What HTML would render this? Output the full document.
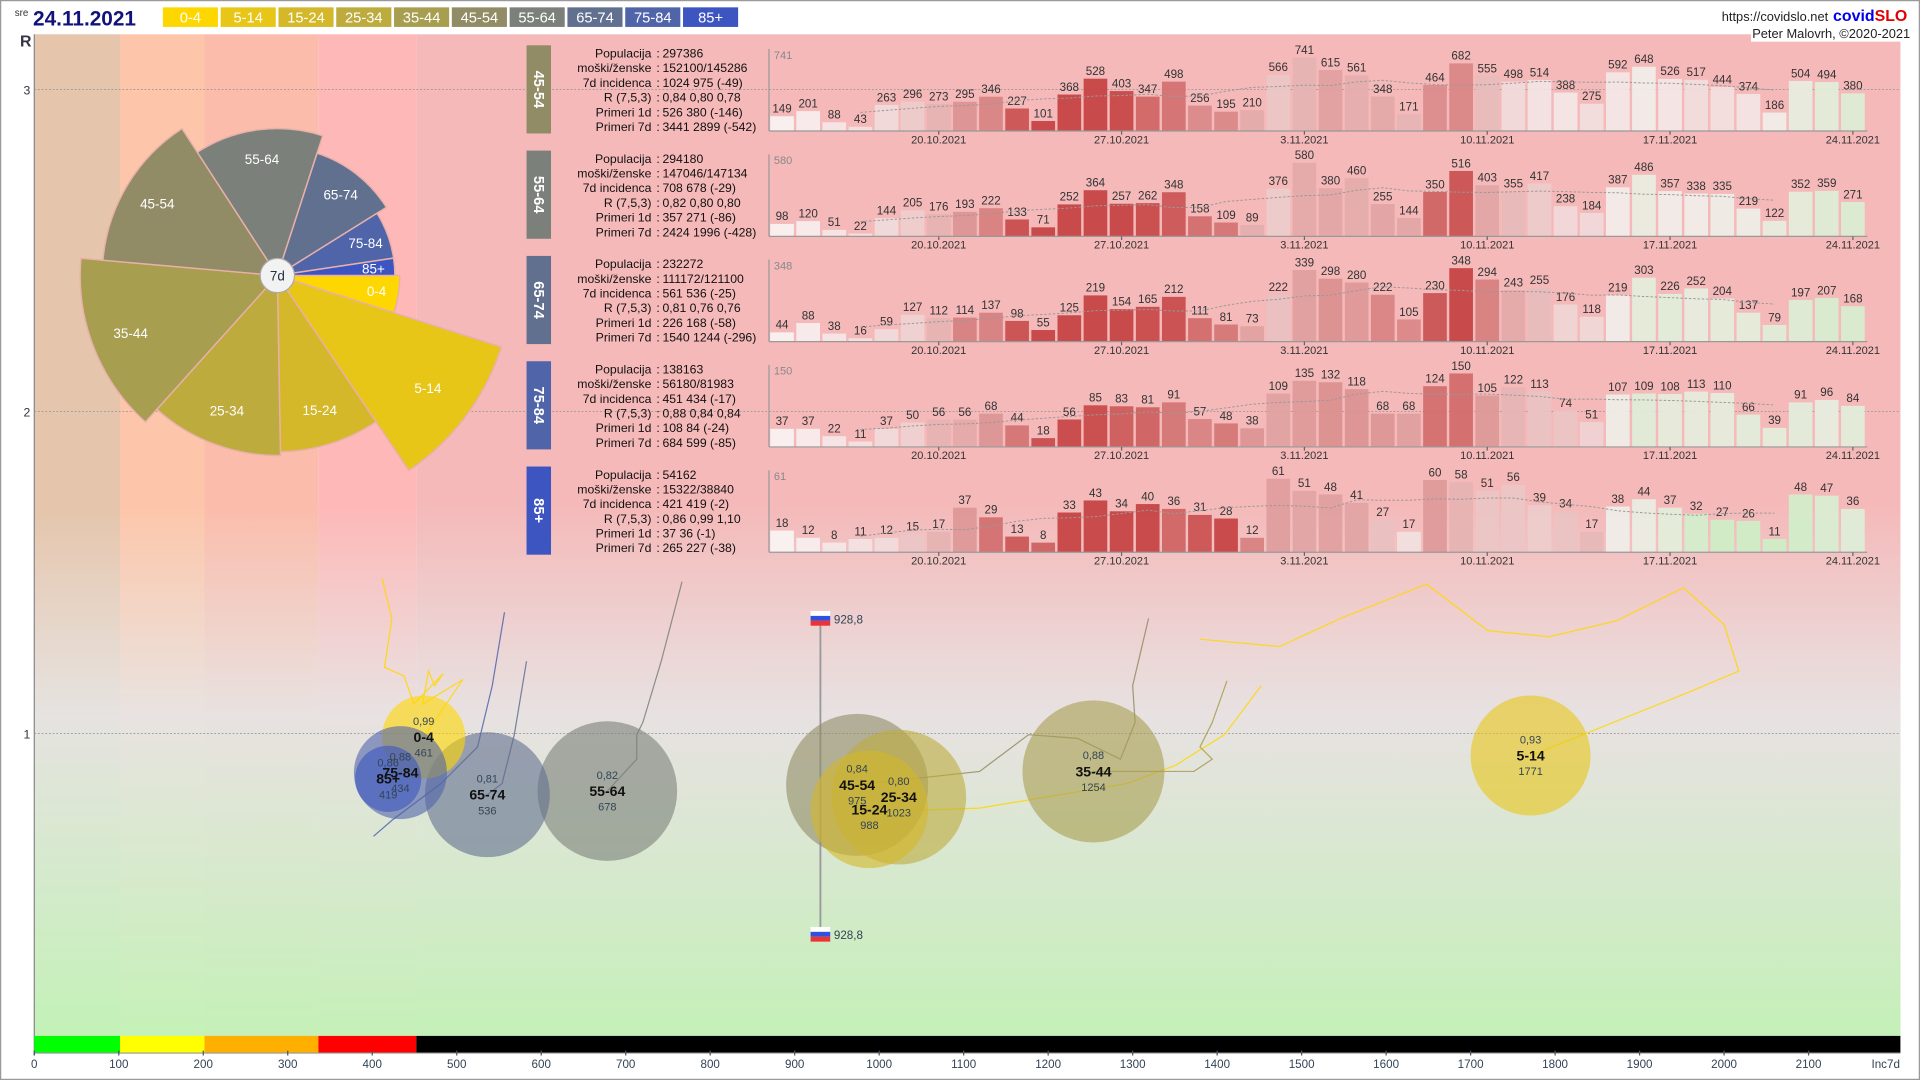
<!DOCTYPE html>
<html><head><meta charset="utf-8"><style>
html,body{margin:0;padding:0;background:#fff;width:1920px;height:1080px;overflow:hidden}
svg{display:block;font-family:"Liberation Sans",sans-serif}
</style></head><body>
<svg id="s" width="1920" height="1080" viewBox="0 0 1568 882" preserveAspectRatio="none" xmlns="http://www.w3.org/2000/svg">
<defs>
<linearGradient id="ov" gradientUnits="userSpaceOnUse" x1="0" y1="28" x2="0" y2="846">
<stop offset="0" stop-color="#e8e8e8" stop-opacity="0"/>
<stop offset="0.47" stop-color="#e8e8e8" stop-opacity="0"/>
<stop offset="0.68" stop-color="#e6e6e6" stop-opacity="0.9"/>
<stop offset="1" stop-color="#c0f5b8" stop-opacity="0.92"/>
</linearGradient>
</defs>
<rect x="0.5" y="0.5" width="1567" height="881" fill="#fff" stroke="#999"/>
<g id="bg"></g>
<rect x="28" y="28" width="1524" height="818" fill="url(#ov)"/>
<g id="grid"></g>
<g id="main"></g>
</svg>
<script>
const NS="http://www.w3.org/2000/svg";
function el(p,t,a,txt){const e=document.createElementNS(NS,t);for(const k in a)e.setAttribute(k,a[k]);if(txt!==undefined)e.textContent=txt;p.appendChild(e);return e;}
const bg=document.getElementById('bg'),G=document.getElementById('main'),gr=document.getElementById('grid');
[[28,98,'#e5c5ab'],[98,167,'#fdc6aa'],[167,260,'#fbbcab'],[260,340,'#feb8b8'],[340,1552,'#f5b9b9']].forEach(b=>el(bg,'rect',{x:b[0],y:28,width:b[1]-b[0],height:818,fill:b[2]}));
el(gr,'line',{x1:28,y1:28,x2:28,y2:862,stroke:'#888','stroke-width':1});
[[3,73],[2,336],[1,599]].forEach(t=>{el(gr,'line',{x1:28,y1:t[1],x2:1552,y2:t[1],stroke:'#999','stroke-width':0.7,'stroke-dasharray':'1.5,1.5'});el(gr,'text',{x:22,y:t[1]+4,'font-size':10,fill:'#334','text-anchor':'middle'},t[0]);});
el(gr,'text',{x:21,y:38,'font-size':13,'font-weight':'bold',fill:'#334','text-anchor':'middle'},'R');
[[28,98,'#00ff00'],[98,167,'#ffff00'],[167,260,'#ffaf00'],[260,340,'#ff0000'],[340,1552,'#000']].forEach(b=>el(gr,'rect',{x:b[0],y:846,width:b[1]-b[0],height:14,fill:b[2]}));
el(gr,'line',{x1:28,y1:860,x2:1552,y2:860,stroke:'#999'});
for(let v=0;v<=2100;v+=100){const x=28+v*0.69;el(gr,'line',{x1:x,y1:858,x2:x,y2:862,stroke:'#456'});el(gr,'text',{x:x,y:872,'font-size':9.5,fill:'#345','text-anchor':'middle'},v);}
el(gr,'text',{x:1540,y:872,'font-size':9.5,fill:'#345','text-anchor':'middle'},'Inc7d');
el(G,'text',{x:12,y:13,'font-size':8,fill:'#333'},'sre');
el(G,'text',{x:27,y:21,'font-size':17,'font-weight':'bold',fill:'#12127a'},'24.11.2021');
const ages=['0-4','5-14','15-24','25-34','35-44','45-54','55-64','65-74','75-84','85+'];
const cols=['#ffd700','#e8c617','#d4b82a','#bdab3d','#a89e50','#918c65','#7b807a','#627090','#5064aa','#3c55c0'];
ages.forEach((a,i)=>{const x=133+i*47.2;el(G,'rect',{x:x,y:6,width:45,height:16,fill:cols[i]});el(G,'text',{x:x+22.5,y:18.5,'font-size':12,fill:'#fff','text-anchor':'middle'},a);});
el(G,'text',{x:1493,y:17,'font-size':10.5,fill:'#222','text-anchor':'end'},'https://covidslo.net');
const t1=el(G,'text',{x:1497,y:17,'font-size':13,'font-weight':'bold',fill:'#0000ee'},'covid');el(t1,'tspan',{fill:'#e00000'},'SLO');
el(G,'rect',{x:1430,y:21,width:132,height:13,fill:'#fff'});
el(G,'text',{x:1560,y:31,'font-size':10.5,fill:'#222','text-anchor':'end'},'Peter Malovrh, ©2020-2021');
const cx=226.5,cy=225;
const rose=[[0,17.7,100,cols[0]],[17.7,56,192,cols[1]],[56,89,144,cols[2]],[89,132,147,cols[3]],[132,185,161,cols[4]],[185,237,143,cols[5]],[237,288,120,cols[6]],[288,328,105,cols[7]],[328,351.5,96,cols[8]],[351.5,360,96,cols[9]]];
rose.forEach((w,i)=>{const a0=w[0]*Math.PI/180,a1=w[1]*Math.PI/180,r=w[2];
const d=`M${cx},${cy}L${cx+r*Math.cos(a0)},${cy+r*Math.sin(a0)}A${r},${r} 0 0 1 ${cx+r*Math.cos(a1)},${cy+r*Math.sin(a1)}Z`;
el(G,'path',{d:d,fill:w[3],stroke:'#e8b0aa','stroke-width':1.2});
const am=(a0+a1)/2,rl=r*(i==9||i==0?0.82:0.8);
el(G,'text',{x:cx+rl*Math.cos(am),y:cy+rl*Math.sin(am)+4,'font-size':11,fill:'#fff','text-anchor':'middle'},ages[i]);});
el(G,'circle',{cx:cx,cy:cy,r:14,fill:'#f2f2f2',stroke:'#aaa'});
el(G,'text',{x:cx,y:cy+4,'font-size':11,fill:'#234','text-anchor':'middle'},'7d');
const P=[
['45-54',cols[5],['297386','152100/145286','1024 975 (-49)','0,84 0,80 0,78','526 380 (-146)','3441 2899 (-542)'],[149,201,88,43,263,296,273,295,346,227,101,368,528,403,347,498,256,195,210,566,741,615,561,348,171,464,682,555,498,514,388,275,592,648,526,517,444,374,186,504,494,380]],
['55-64',cols[6],['294180','147046/147134','708 678 (-29)','0,82 0,80 0,80','357 271 (-86)','2424 1996 (-428)'],[98,120,51,22,144,205,176,193,222,133,71,252,364,257,262,348,158,109,89,376,580,380,460,255,144,350,516,403,355,417,238,184,387,486,357,338,335,219,122,352,359,271]],
['65-74',cols[7],['232272','111172/121100','561 536 (-25)','0,81 0,76 0,76','226 168 (-58)','1540 1244 (-296)'],[44,88,38,16,59,127,112,114,137,98,55,125,219,154,165,212,111,81,73,222,339,298,280,222,105,230,348,294,243,255,176,118,219,303,226,252,204,137,79,197,207,168]],
['75-84',cols[8],['138163','56180/81983','451 434 (-17)','0,88 0,84 0,84','108 84 (-24)','684 599 (-85)'],[37,37,22,11,37,50,56,56,68,44,18,56,85,83,81,91,57,48,38,109,135,132,118,68,68,124,150,105,122,113,74,51,107,109,108,113,110,66,39,91,96,84]],
['85+',cols[9],['54162','15322/38840','421 419 (-2)','0,86 0,99 1,10','37 36 (-1)','265 227 (-38)'],[18,12,8,11,12,15,17,37,29,13,8,33,43,34,40,36,31,28,12,61,51,48,41,27,17,60,58,51,56,39,34,17,38,44,37,32,27,26,11,48,47,36]]];
const labs=['Populacija','moški/ženske','7d incidenca','R (7,5,3)','Primeri 1d','Primeri 7d'];
const dates=['20.10.2021','27.10.2021','3.11.2021','10.11.2021','17.11.2021','24.11.2021'];
function mix(a,b,t){return 'rgb('+[0,1,2].map(k=>Math.round(a[k]+(b[k]-a[k])*t)).join(',')+')';}
P.forEach((p,k)=>{const y0=37+86*k,base=y0+70;
el(G,'rect',{x:430,y:y0,width:20,height:72,fill:p[1]});
el(G,'text',{x:0,y:0,'font-size':12,'font-weight':'bold',fill:'#fff','text-anchor':'middle',transform:`translate(436,${y0+36}) rotate(90)`},p[0]);
labs.forEach((l,j)=>{const y=y0+10+12*j;el(G,'text',{x:532,y:y,'font-size':10,fill:'#111','text-anchor':'end'},l);el(G,'text',{x:536,y:y,'font-size':10,fill:'#111'},':');el(G,'text',{x:541,y:y,'font-size':10,fill:'#111'},p[2][j]);});
const v=p[3],mx=Math.max(...v),h=60/mx,bw=21.33;
const early=v.slice(0,7).reduce((a,b)=>a+b,0)/7*0.8;
const val=i=>i<0?early:v[i];
el(G,'line',{x1:628,y1:y0+3,x2:628,y2:base,stroke:'#999'});
el(G,'text',{x:632,y:y0+11,'font-size':9,fill:'#888'},mx);
v.forEach((vv,i)=>{const x=628+i*bw;let c;
let s1=0,s0=0;for(let j=i-6;j<=i;j++){s1+=val(j);s0+=val(j-7);}
const r=s1/s0;
if(i<5)c=mix([250,245,245],[240,215,215],i/5);
else if(r>=1){c=mix([246,236,236],[196,62,62],Math.min((r-1)/0.75,1));}else{c=mix([246,240,240],[205,240,200],Math.min((1-r)/0.25,1));}
const bh=vv*h;el(G,'rect',{x:x+1,y:base-bh,width:bw-2,height:bh,fill:c,'fill-opacity':0.9});
el(G,'text',{x:x+bw/2,y:base-bh-3,'font-size':9.5,fill:'#333','text-anchor':'middle'},vv);});
let pts=[];for(let i=3;i<v.length-3;i++){let s=0;for(let j=i-3;j<=i+3;j++)s+=v[j];pts.push((628+i*bw+bw/2)+','+(base-s/7*h));}
el(G,'polyline',{points:pts.join(' '),fill:'none',stroke:'#999','stroke-width':0.8,'stroke-dasharray':'2,1.5'});
el(G,'line',{x1:628,y1:base,x2:1525,y2:base,stroke:'#999'});
dates.forEach((d,j)=>{const x=628+(6+7*j)*bw+bw/2;el(G,'line',{x1:x,y1:base,x2:x,y2:base+3,stroke:'#666'});el(G,'text',{x:x,y:base+10,'font-size':9,fill:'#333','text-anchor':'middle'},d);});});
const tr=[
[cols[0],'312,472 320,505 314,545 330,552 338,575 362,550 355,560 350,548 345,575 378,555 346,602'],
[cols[0],'980,522 1045,528 1095,505 1165,477 1215,515 1265,520 1320,507 1375,480 1408,510 1420,548 1380,565 1330,585 1250,617'],
[cols[0],'1030,560 1000,600 960,625 920,640 860,650 800,660 740,662'],
[cols[8],'412,500 402,560 390,610 360,640 320,670 305,683'],
[cols[7],'430,540 420,600 410,640 398,649'],
[cols[6],'557,475 540,540 525,590 520,600 520,620 496,646'],
[cols[5],'938,505 925,560 927,590 915,620 880,603 840,600 800,630 700,641'],
[cols[4],'1002,556 990,590 980,610 990,620 975,630 893,630']];
tr.forEach(t=>el(G,'polyline',{points:t[1],fill:'none',stroke:t[0],'stroke-width':1,'stroke-opacity':0.85}));
el(G,'line',{x1:670,y1:508,x2:670,y2:760,stroke:'#999','stroke-width':1.5});
[505,763].forEach(y=>{el(G,'rect',{x:662,y:y-6,width:16,height:4,fill:'#fff'});el(G,'rect',{x:662,y:y-2,width:16,height:4,fill:'#3050e0'});el(G,'rect',{x:662,y:y+2,width:16,height:4,fill:'#ee3333'});el(G,'text',{x:681,y:y+4,'font-size':9.5,fill:'#345'},'928,8');});
const B=[
[893,630,58,cols[4],'0,88','35-44','1254'],
[496,646,57,cols[6],'0,82','55-64','678'],
[700,641,58,cols[5],'0,84','45-54','975'],
[734,651,55,cols[3],'0,80','25-34','1023'],
[710,661,48,cols[2],'','15-24','988'],
[398,649,51,cols[7],'0,81','65-74','536'],
[346,602,34,cols[0],'0,99','0-4','461'],
[327,631,38,cols[8],'0,88','75-84','434'],
[317,636,27,cols[9],'0,86','85+','419'],
[1250,617,49,cols[1],'0,93','5-14','1771']];
B.forEach(b=>{el(G,'circle',{cx:b[0],cy:b[1],r:b[2],fill:b[3],'fill-opacity':0.6});});
B.forEach(b=>{if(b[4])el(G,'text',{x:b[0],y:b[1]-10,'font-size':9,fill:'#345','text-anchor':'middle'},b[4]);
el(G,'text',{x:b[0],y:b[1]+4,'font-size':11.5,'font-weight':'bold',fill:'#111','text-anchor':'middle'},b[5]);
el(G,'text',{x:b[0],y:b[1]+16,'font-size':9,fill:'#345','text-anchor':'middle'},b[6]);});
</script>
</body></html>
